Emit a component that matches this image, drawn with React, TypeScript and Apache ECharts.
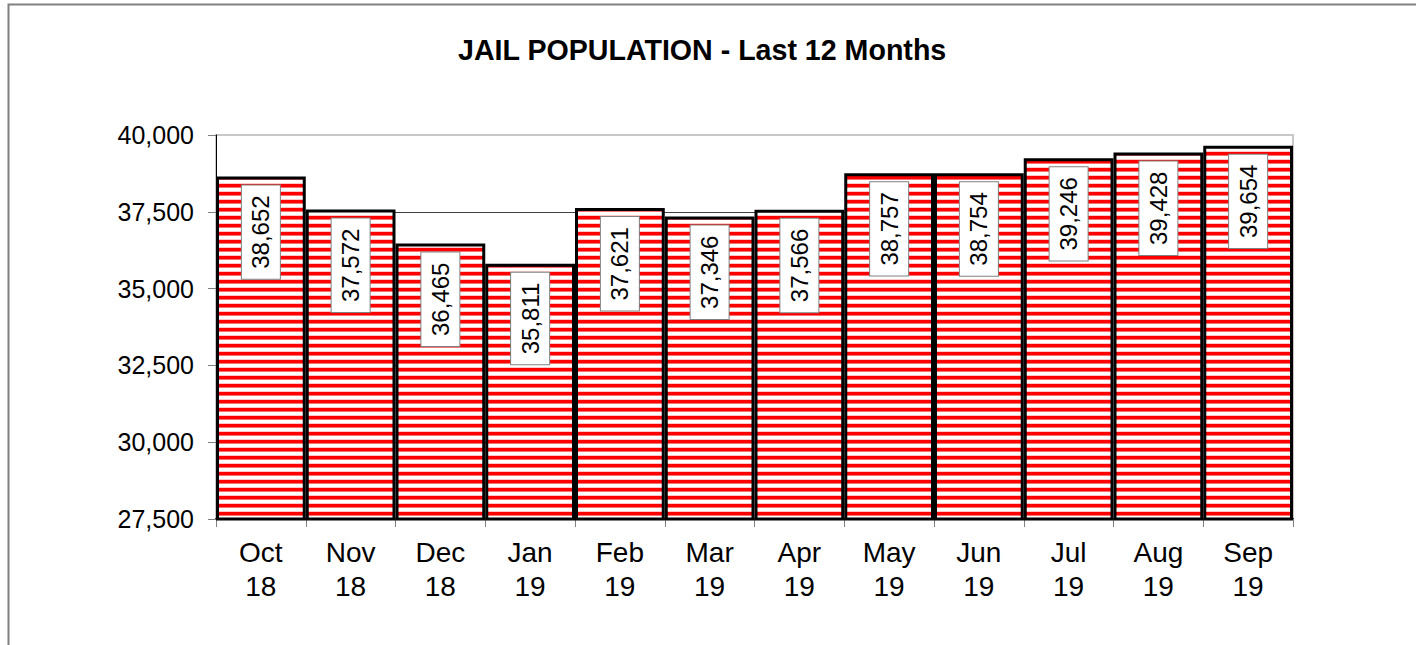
import React, { useEffect, useRef } from "react";
import * as echarts from "echarts";

const months = ["Oct\n18", "Nov\n18", "Dec\n18", "Jan\n19", "Feb\n19", "Mar\n19", "Apr\n19", "May\n19", "Jun\n19", "Jul\n19", "Aug\n19", "Sep\n19"];
const population = [38652, 37572, 36465, 35811, 37621, 37346, 37566, 38757, 38754, 39246, 39428, 39654];
const yMin = 27500;
const yMax = 40000;
const yStep = 2500;
const titleText = "JAIL POPULATION - Last 12 Months";

function makeStripe(): string {
  const c = document.createElement("canvas");
  c.width = 8;
  c.height = 8;
  const ctx = c.getContext("2d")!;
  const rows = ["#ff0000", "#ff0000", "#ff0000", "#ff7070", "#ffffff", "#ffffff", "#ffffff", "#ffc8c8"];
  rows.forEach((col, i) => {
    ctx.fillStyle = col;
    ctx.fillRect(0, i, 8, 1);
  });
  return c.toDataURL();
}

export default function App() {
  const ref = useRef<HTMLDivElement>(null);
  useEffect(() => {
    if (!ref.current) return;
    const chart = echarts.init(ref.current, null, { renderer: "svg" });
    const stripe = makeStripe();
    const font = "Arial, 'Liberation Sans', sans-serif";
    chart.setOption({
      animation: false,
      backgroundColor: "#ffffff",
      title: {
        text: titleText,
        left: 453,
        top: 30,
        textStyle: { fontSize: 28.6, fontWeight: "bold", fontFamily: font, color: "#000" },
      },
      graphic: [
        {
          type: "rect",
          shape: { x: 8.5, y: 4.5, width: 1500, height: 800 },
          style: { fill: "none", stroke: "#808080", lineWidth: 2 },
          silent: true,
        },
      ],
      grid: { left: 216, top: 135, right: 123, bottom: 126, show: true, borderColor: "#c8c8c8", borderWidth: 2 },
      xAxis: {
        type: "category",
        data: months,
        axisLine: { show: true, lineStyle: { color: "#000", width: 2 } },
        axisTick: { show: true, length: 8, lineStyle: { color: "#808080" } },
        axisLabel: { fontSize: 28, fontFamily: font, color: "#000", lineHeight: 34, margin: 16 },
      },
      yAxis: {
        type: "value",
        min: yMin,
        max: yMax,
        interval: yStep,
        axisLine: { show: true, lineStyle: { color: "#000", width: 1 } },
        axisTick: { show: true, length: 8, lineStyle: { color: "#808080" } },
        axisLabel: {
          fontSize: 25,
          fontFamily: font,
          color: "#000",
          margin: 22,
          formatter: (v: number) => v.toLocaleString("en-US"),
        },
        splitLine: {
          show: true,
          lineStyle: { color: ["#404040", "#404040", "#404040", "#404040", "#404040", "#c8c8c8"], width: 1 },
        },
      },
      series: [
        {
          type: "bar",
          data: population,
          barCategoryGap: "0%",
          itemStyle: {
            color: { image: stripe, repeat: "repeat", imageWidth: 8, imageHeight: 8 } as any,
            borderColor: "#000",
            borderWidth: 3,
          },
          label: {
            show: true,
            position: "insideTop",
            rotate: 90,
            align: "right",
            verticalAlign: "middle",
            distance: 9,
            fontSize: 24,
            fontFamily: font,
            color: "#000",
            backgroundColor: "#fff",
            borderColor: "#808080",
            borderWidth: 1,
            padding: [7, 10, 7, 10],
            formatter: (p: any) => Number(p.value).toLocaleString("en-US"),
          },
        },
      ],
    });
    return () => chart.dispose();
  }, []);
  return (
    <div
      ref={ref}
      style={{ position: "fixed", left: 0, top: 0, width: 1416, height: 645, background: "#fff" }}
    />
  );
}
